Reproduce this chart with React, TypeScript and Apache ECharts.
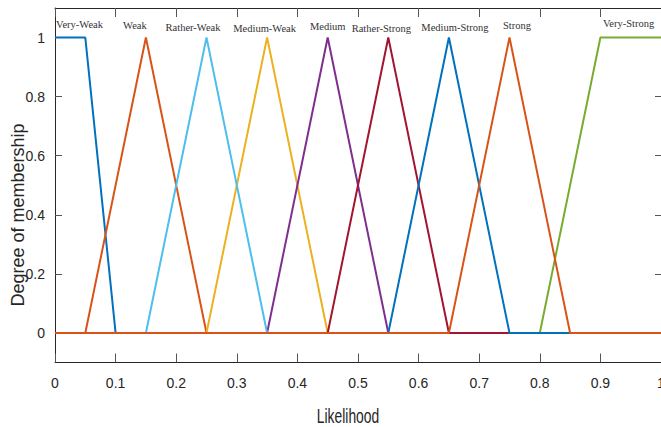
import React, { useEffect, useRef } from "react";
import * as echarts from "echarts";

// Membership functions: names and breakpoints (triangles [a,b,c], trapezoids [a,b,c,d])
const mfNames = [
  "Very-Weak",
  "Weak",
  "Rather-Weak",
  "Medium-Weak",
  "Medium",
  "Rather-Strong",
  "Medium-Strong",
  "Strong",
  "Very-Strong",
];
const mfParams: number[][] = [
  [0, 0, 0.05, 0.1],
  [0.05, 0.15, 0.25],
  [0.15, 0.25, 0.35],
  [0.25, 0.35, 0.45],
  [0.35, 0.45, 0.55],
  [0.45, 0.55, 0.65],
  [0.55, 0.65, 0.75],
  [0.65, 0.75, 0.85],
  [0.8, 0.9, 1, 1],
];
// order in which the curves were plotted (last on top)
const drawOrder = [0, 1, 3, 4, 8, 2, 5, 6, 7];
const xRange = [0, 1];
const yRange = [-0.1, 1.1];
const yTickValues = [0, 0.2, 0.4, 0.6, 0.8, 1];
const xAxisTitle = "Likelihood";
const yAxisTitle = "Degree of membership";

// styles
const mfColors = [
  "#0072BD",
  "#D95319",
  "#4DBEEE",
  "#EDB120",
  "#7E2F8E",
  "#A2142F",
  "#0072BD",
  "#D95319",
  "#77AC30",
];
const labelStyle: { align: string; offset: number[] }[] = [
  { align: "left", offset: [1, -13.5] },
  { align: "center", offset: [-11, -12.5] },
  { align: "center", offset: [-13.5, -10.5] },
  { align: "center", offset: [-2.5, -9.5] },
  { align: "center", offset: [0, -11.5] },
  { align: "center", offset: [-7, -9.5] },
  { align: "center", offset: [6, -10.5] },
  { align: "center", offset: [7.5, -12.5] },
  { align: "left", offset: [2.5, -14.5] },
];

function mf(p: number[], x: number): number {
  const [a, b, c, d] = p.length === 3 ? [p[0], p[1], p[1], p[2]] : p;
  if (x < a || x > d) return 0;
  if (x >= b && x <= c) return 1;
  if (x < b) return (x - a) / (b - a);
  return (d - x) / (d - c);
}

function curvePoints(p: number[]): number[][] {
  const xs = Array.from(new Set([xRange[0], ...p, xRange[1]])).sort((u, v) => u - v);
  return xs.map((x) => [x, mf(p, x)]);
}

const TEXT = "#262626";
const FONT = "'Liberation Sans', Arial, sans-serif";

export default function App() {
  const ref = useRef<HTMLDivElement>(null);
  useEffect(() => {
    document.body.style.margin = "0";
    const chart = echarts.init(ref.current!, undefined, { renderer: "svg" });
    const series = drawOrder.map((i) => {
      const p = mfParams[i];
      const peakX = p[1];
      const pts = curvePoints(p);
      return {
        type: "line",
        name: mfNames[i],
        data: pts.map((pt) =>
          pt[0] === peakX
            ? {
                value: pt,
                label: {
                  show: true,
                  position: "inside",
                  formatter: mfNames[i],
                  align: labelStyle[i].align,
                  verticalAlign: "middle",
                  offset: labelStyle[i].offset,
                  fontFamily: "'Liberation Serif', serif",
                  fontSize: 10.5,
                  color: "#333",
                },
              }
            : pt
        ),
        showSymbol: true,
        symbol: "circle",
        symbolSize: 0,
        lineStyle: { color: mfColors[i], width: 2 },
        itemStyle: { color: mfColors[i] },
        emphasis: { disabled: true },
        silent: true,
        z: 2,
      };
    });
    const axisLine = { show: true, onZero: false, lineStyle: { color: TEXT, width: 1 } };
    const option: any = {
      animation: false,
      backgroundColor: "#fff",
      grid: { left: 55, top: 8, width: 606, height: 354.5, outerBoundsMode: "none" },
      xAxis: [
        {
          type: "value",
          min: xRange[0],
          max: xRange[1],
          interval: 0.1,
          position: "bottom",
          axisLine,
          axisTick: { show: true, inside: true, length: 9, lineStyle: { color: "#555" } },
          axisLabel: {
            show: true,
            margin: 13,
            fontSize: 14,
            fontFamily: FONT,
            color: TEXT,
            showMaxLabel: true,
            showMinLabel: true,
          },
          splitLine: { show: false },
        },
        {
          type: "value",
          min: xRange[0],
          max: xRange[1],
          interval: 0.1,
          position: "top",
          axisLine,
          axisTick: { show: true, inside: true, length: 9, lineStyle: { color: "#555" } },
          axisLabel: { show: false },
          splitLine: { show: false },
        },
      ],
      yAxis: [
        {
          type: "value",
          min: yRange[0],
          max: yRange[1],
          position: "left",
          axisLine,
          axisTick: {
            show: true,
            inside: true,
            length: 7,
            customValues: yTickValues,
            lineStyle: { color: "#555" },
          },
          axisLabel: {
            show: true,
            customValues: yTickValues,
            margin: 10,
            fontSize: 14,
            fontFamily: FONT,
            color: TEXT,
            verticalAlign: "middle",
            padding: [0, 0, 8, 0],
          },
          splitLine: { show: false },
        },
        {
          type: "value",
          min: yRange[0],
          max: yRange[1],
          position: "right",
          axisLine,
          axisTick: {
            show: true,
            inside: true,
            length: 6,
            customValues: yTickValues,
            lineStyle: { color: "#555" },
          },
          axisLabel: { show: false },
          splitLine: { show: false },
        },
      ],
      graphic: [
        {
          type: "text",
          x: 348,
          y: 416,
          scaleX: 0.66,
          style: {
            text: xAxisTitle,
            fontSize: 21,
            fontFamily: FONT,
            fill: TEXT,
            align: "center",
            verticalAlign: "middle",
          },
        },
        {
          type: "text",
          x: 18,
          y: 215,
          rotation: Math.PI / 2,
          style: {
            text: yAxisTitle,
            fontSize: 18,
            fontFamily: FONT,
            fill: TEXT,
            align: "center",
            verticalAlign: "middle",
          },
        },
      ],
      series,
    };
    chart.setOption(option);
    return () => chart.dispose();
  }, []);
  return <div ref={ref} style={{ width: 661, height: 427 }} />;
}
